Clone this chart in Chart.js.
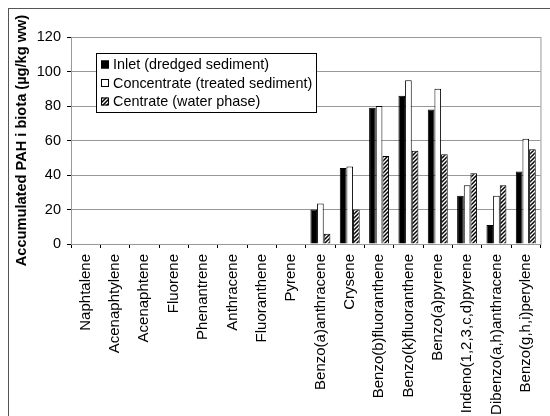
<!DOCTYPE html>
<html>
<head>
<meta charset="utf-8">
<script src="https://cdn.jsdelivr.net/npm/chart.js@4"></script>
<style>
  body { margin: 0; background: #fff; }
  #wrap { position: relative; width: 550px; height: 416px; overflow: hidden; }
  #frame { position: absolute; left: 8px; top: 8px; width: 560px; height: 420px; border: 1px solid #555; }
  canvas { position: absolute; left: 0; top: 0; }
</style>
</head>
<body>
<div id="wrap">
  <div id="frame"></div>
  <canvas id="grafico" width="550" height="416"></canvas>
</div>
<script>
const categorias = [
  "Naphtalene", "Acenaphtylene", "Acenaphtene", "Fluorene", "Phenantrene",
  "Anthracene", "Fluoranthene", "Pyrene", "Benzo(a)anthracene", "Crysene",
  "Benzo(b)fluoranthene", "Benzo(k)fluoranthene", "Benzo(a)pyrene",
  "Indeno(1,2,3,c,d)pyrene", "Dibenzo(a,h)anthracene", "Benzo(g,h,i)perylene"
];
const inlet       = [0, 0, 0, 0, 0, 0, 0, 0, 20, 44, 79, 86, 78, 28, 11, 42];
const concentrate = [0, 0, 0, 0, 0, 0, 0, 0, 23.5, 45, 80, 95, 90, 34, 28, 61];
const centrate    = [0, 0, 0, 0, 0, 0, 0, 0, 6, 20, 51, 54, 52, 41, 34, 55];
const nomes = ["Inlet (dredged sediment)", "Concentrate (treated sediment)", "Centrate (water phase)"];

// listras diagonais para a série "Centrate"
function hachura() {
  const c = document.createElement("canvas");
  c.width = 4; c.height = 4;
  const g = c.getContext("2d");
  g.fillStyle = "#fff";
  g.fillRect(0, 0, 4, 4);
  g.strokeStyle = "#000";
  g.lineWidth = 1.5;
  g.beginPath();
  g.moveTo(-1, 5); g.lineTo(5, -1);
  g.moveTo(-1, 1); g.lineTo(1, -1);
  g.moveTo(3, 5); g.lineTo(5, 3);
  g.stroke();
  return g.createPattern(c, "repeat");
}

const ctx = document.getElementById("grafico").getContext("2d");
const listras = hachura();
const fonte = "'Liberation Sans', Arial, sans-serif";

const moldura = {
  id: "moldura",
  beforeDatasetsDraw(chart) {
    const { ctx, chartArea: a } = chart;
    ctx.save();
    ctx.strokeStyle = "#999";
    ctx.lineWidth = 1;
    ctx.strokeRect(a.left + 0.5, a.top + 0.5, a.right - a.left, a.bottom - a.top);
    ctx.restore();
  },
  afterDraw(chart) {
    const { ctx } = chart;
    const x = 96, y = 53, w = 220, h = 59;
    ctx.save();
    ctx.fillStyle = "#fff";
    ctx.fillRect(x, y, w, h);
    ctx.strokeStyle = "#000";
    ctx.lineWidth = 1;
    ctx.strokeRect(x + 0.5, y + 0.5, w, h);
    ctx.font = "14.4px " + fonte;
    ctx.textBaseline = "middle";
    chart.data.datasets.forEach((ds, i) => {
      const yy = y + 11.5 + i * 18.5;
      ctx.fillStyle = ds.backgroundColor;
      ctx.fillRect(x + 5, yy - 4, 8, 8);
      ctx.strokeStyle = "#000";
      ctx.strokeRect(x + 5.5, yy - 3.5, 7, 7);
      ctx.fillStyle = "#000";
      ctx.fillText(ds.label, x + 17, yy + 1);
    });
    ctx.restore();
  }
};

new Chart(ctx, {
  type: "bar",
  data: {
    labels: categorias,
    datasets: [
      { label: nomes[0], data: inlet, backgroundColor: "#000", borderColor: "#000", borderWidth: 1 },
      { label: nomes[1], data: concentrate, backgroundColor: "#fff", borderColor: "#000", borderWidth: 1 },
      { label: nomes[2], data: centrate, backgroundColor: listras, borderColor: "#000", borderWidth: 1 }
    ]
  },
  options: {
    responsive: false,
    animation: false,
    layout: { padding: { top: 37, right: 7, left: 0, bottom: 0 } },
    datasets: { bar: { categoryPercentage: 0.68, barPercentage: 1 } },
    plugins: {
      legend: { display: false },
      tooltip: { enabled: false }
    },
    scales: {
      x: {
        grid: { drawOnChartArea: false, color: "#000", tickLength: 4, offset: true },
        border: { color: "#000" },
        ticks: {
          color: "#000",
          maxRotation: 90,
          minRotation: 90,
          autoSkip: false,
          padding: 6,
          font: { family: fonte, size: 15 }
        },
        afterFit(scale) { scale.height = 172; }
      },
      y: {
        min: 0,
        max: 120,
        grid: { color: "#999", tickLength: 4, tickColor: "#000" },
        border: { color: "#000" },
        ticks: {
          stepSize: 20,
          color: "#000",
          padding: 6,
          font: { family: fonte, size: 14.5 }
        },
        title: {
          display: true,
          text: "Accumulated PAH i biota (µg/kg ww)",
          color: "#000",
          padding: { top: 13, bottom: 0 },
          font: { family: fonte, size: 14.6, weight: "bold" }
        },
        afterFit(scale) { scale.width = 71; }
      }
    }
  },
  plugins: [moldura]
});
</script>
</body>
</html>
